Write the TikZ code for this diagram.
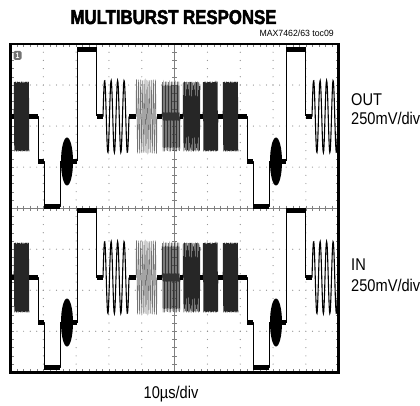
\documentclass[tikz,border=0pt]{standalone}
\usepackage{fontspec}
\setmainfont{Liberation Sans}
\newfontfamily\titlefont{Liberation Sans}[FakeStretch=0.84, FakeBold=2.5]
\newfontfamily\labfont{Liberation Sans}[FakeStretch=0.86]
\newfontfamily\smallfont{Liberation Sans}[FakeStretch=0.97]
\tikzset{
  trace/.style={line width=0.7pt, black, line join=round},
  band/.style={line width=4.5pt, black},
  burst/.style={line width=0.55pt, black!85},
  gdot/.style={fill=black!45},
  axis/.style={line width=0.45pt, black!50},
  lab/.style={inner sep=0pt, font=\labfont\fontsize{17}{20}\selectfont},
}
\newcommand\mbline[2]{%
  \begin{scope}[shift={(#1,#2)}]
    \draw[trace] (0,161.5) -- (0,49.5) -- (19.5,49.5) -- (19.5,116.5);
    \draw[trace] (161,116.5) -- (170,116.5)
      -- (170,161.5) -- (176,161.5) -- (176,206.5) -- (192,206.5) -- (192,161.5) -- (209,161.5);
    \draw[burst, line width=1.1pt, black] plot[domain=26:52, samples=90] (\x,{116.5-36*sin(360*(\x-26)/6.5)});
    \draw[burst, black!55] plot[domain=59:80, samples=120] (\x,{116.5-37*sin(360*(\x-59)/2.1)});
    \draw[burst, black!80] plot[domain=85:103, samples=130] (\x,{116.5-35*sin(360*(\x-85)/1.5)});
    \draw[burst] plot[domain=106:123, samples=150] (\x,{116.5-35*sin(360*(\x-106)/1.2)});
    \draw[burst] plot[domain=126:141, samples=160] (\x,{116.5-35*sin(360*(\x-126)/1.0)});
    \draw[burst] plot[domain=146:161, samples=200] (\x,{116.5-35*sin(360*(\x-146)/0.8)});
    \draw[band] (0,49.5) -- (19.5,49.5);
    \foreach \a/\b in {19.5/26, 52/59, 80/85, 103/106, 123/126, 141/146, 161/170}
      \draw[band] (\a,116.5) -- (\b,116.5);
    \draw[band] (170,161.5) -- (176,161.5);
    \draw[band] (205,161.5) -- (209,161.5);
    \draw[band] (176,206.5) -- (192,206.5);
    \fill (199,161.5) ellipse [x radius=6, y radius=24];
  \end{scope}}
\begin{document}
\begin{tikzpicture}[x=1pt,y=-1pt]
\useasboundingbox (0,0) rectangle (420,406);
% graticule
\foreach \i in {1,2,3,4,6,7,8,9}
  \foreach \j in {1,...,39}
    \fill[gdot] ({10.5+\i*32.82},{44+\j*8.2075}) circle (0.6);
\foreach \j in {1,2,3,5,6,7}
  \foreach \i in {1,...,49}
    \fill[gdot] ({10.5+\i*6.564},{44+\j*41.0375}) circle (0.6);
\draw[axis] (10.5,208.15) -- (338.7,208.15);
\draw[axis] (174.6,44) -- (174.6,372.3);
\foreach \i in {1,...,49} {
  \draw[axis] ({10.5+\i*6.564},205.65) -- ++(0,5);
  \draw[axis] ({10.5+\i*6.564},44) -- ++(0,3);
  \draw[axis] ({10.5+\i*6.564},372.3) -- ++(0,-3);
}
\foreach \j in {1,...,39} {
  \draw[axis] (172.1,{44+\j*8.2075}) -- ++(5,0);
  \draw[axis] (10.5,{44+\j*8.2075}) -- ++(3,0);
  \draw[axis] (338.7,{44+\j*8.2075}) -- ++(-3,0);
}
% traces
\begin{scope}
  \clip (10.5,44) rectangle (338.7,372.3);
  \foreach \xo in {-132,77,286} {
    \mbline{\xo}{0}
    \mbline{\xo}{161}
  }
\end{scope}
\draw[line width=2.6pt] (10.5,44) rectangle (338.7,372.3);
\node[fill=black!55, text=white, rounded corners=1.5pt, inner sep=0pt,
      minimum width=8pt, minimum height=9pt,
      font=\labfont\bfseries\fontsize{8}{8}\selectfont] (ch) at (17.5,55.5) {1};
% texts
\node[anchor=base, inner sep=0pt, font=\titlefont\bfseries\fontsize{20}{24}\selectfont] (title) at (173.5,24) {MULTIBURST RESPONSE};
\node[anchor=base east, inner sep=0pt, font=\smallfont\fontsize{9}{10}\selectfont] (ref) at (334,36.7) {MAX7462/63 toc09};
\node[lab, anchor=base west] (outl) at (351,105.5) {OUT};
\node[lab, anchor=base west] (outs) at (351,125) {250mV/div};
\node[lab, anchor=base west] (inl) at (351,270) {IN};
\node[lab, anchor=base west] (ins) at (351,291.7) {250mV/div};
\node[lab, anchor=base] (tb) at (171,398) {10µs/div};
\end{tikzpicture}
\end{document}
